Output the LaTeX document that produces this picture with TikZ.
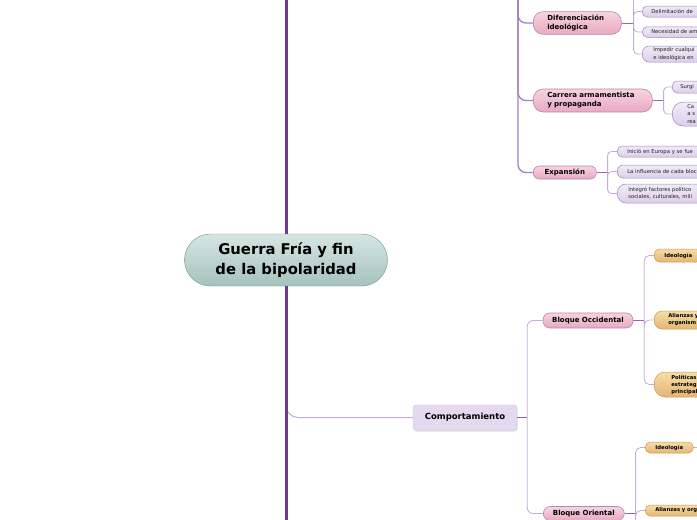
\documentclass[tikz,border=0pt]{standalone}
\usepackage{fontspec}
\setmainfont{DejaVu Sans}
\usetikzlibrary{shadows}
\definecolor{spineclr}{HTML}{6E3A98}
\definecolor{hubclr}{HTML}{A57FC6}
\definecolor{twigclr}{HTML}{C6AADB}
\definecolor{stemclr}{HTML}{9266B6}
\definecolor{roottop}{HTML}{D6E6E2}
\definecolor{rootbot}{HTML}{A6C2BD}
\definecolor{rootline}{HTML}{6F958E}
\definecolor{pinktop}{HTML}{F7D3DF}
\definecolor{pinkbot}{HTML}{E9A9C1}
\definecolor{pinkline}{HTML}{B487B6}
\definecolor{leaftop}{HTML}{F1EAF6}
\definecolor{leafbot}{HTML}{DCCFEA}
\definecolor{leafline}{HTML}{9F88BF}
\definecolor{oratop}{HTML}{F7DDA9}
\definecolor{orabot}{HTML}{E2B670}
\definecolor{oraline}{HTML}{C39A57}
\definecolor{compfill}{HTML}{E4D9EE}
\definecolor{compline}{HTML}{D5C7E4}

\tikzset{
  root/.style={draw=rootline, top color=roottop, bottom color=rootbot, rounded corners=26,
    minimum width=203, minimum height=52, align=center, font=\fontsize{14.8}{19.5}\selectfont\bfseries},
  topic/.style={draw=compline, fill=compfill, rounded corners=3, minimum width=104, minimum height=25,
    font=\fontsize{8.5}{10}\selectfont\bfseries,
    drop shadow={opacity=0.25, shadow xshift=0.6pt, shadow yshift=-1.6pt}},
  mid/.style={draw=pinkline, top color=pinktop, bottom color=pinkbot, line width=0.6pt,
    font=\fontsize{7}{9}\selectfont\bfseries},
  leaf/.style={draw=leafline, top color=leaftop, bottom color=leafbot, line width=0.5pt, anchor=west,
    font=\fontsize{5.3}{7.2}\selectfont, text=black!88, align=left, text width=80, inner ysep=1.5},
  tip/.style={draw=oraline, top color=oratop, bottom color=orabot, line width=0.5pt, anchor=west,
    font=\fontsize{5.3}{7}\selectfont\bfseries, inner ysep=1.5},
  spine/.style={draw=spineclr, line width=3},
  hub/.style={draw=hubclr, line width=1.3},
  stem/.style={draw=stemclr, line width=1},
  twig/.style={draw=twigclr, line width=0.8}
}

\begin{document}
\begin{tikzpicture}[x=1pt,y=-1pt]
  \useasboundingbox (0,0) rectangle (697,520);
  \clip (0,0) rectangle (697,520);
  \fill[white] (0,0) rectangle (697,520);

  % upper branches
  \coordinate (hubtop) at (518,-6);
  \node[mid, anchor=west, text width=60, align=left, inner xsep=14, minimum height=22, rounded corners=10] (dif) at (533,23) {Diferenciación\\ideológica};
  \node[mid, anchor=west, text width=91, align=left, inner xsep=14, minimum height=23, rounded corners=10] (car) at (533,100.5) {Carrera armamentista\\y propaganda};
  \node[mid, anchor=west, minimum width=63, minimum height=13, inner ysep=1, rounded corners=6] (exp) at (533,172.5) {Expansión};

  \node[leaf, inner xsep=9, minimum height=11, rounded corners=5] (del) at (642,11.5) {Delimitación de};
  \node[leaf, inner xsep=9, minimum height=10.5, rounded corners=5] (nec) at (642,32) {Necesidad de am};
  \node[leaf, inner xsep=11, minimum height=16, rounded corners=7] (imp) at (642,54) {Impedir cualqui\\e ideológica en};
  \node[leaf, inner xsep=8, minimum height=12, rounded corners=5] (sur) at (672,87) {Surgi};
  \node[leaf, inner xsep=15, minimum height=24, rounded corners=11] (cam) at (672,114) {Ca\\a s\\rea};
  \node[leaf, inner xsep=10, minimum height=11, rounded corners=5] (ini) at (617,151.5) {Inició en Europa y se fue};
  \node[leaf, inner xsep=10, minimum height=13, rounded corners=6] (inf) at (617,171.5) {La influencia de cada bloc};
  \node[leaf, inner xsep=11, minimum height=19, rounded corners=9] (itg) at (617,193.5) {Integró factores político\\sociales, culturales, mili};

  \draw[hub, rounded corners=8] (hubtop) |- (dif.west);
  \draw[hub, rounded corners=8] (hubtop) |- (car.west);
  \draw[hub, rounded corners=8] (hubtop) |- (exp.west);

  \draw[stem] (dif.east) -- ++(12,0) coordinate (difj);
  \coordinate (difup) at ([xshift=12]dif.east |- 0,-6);
  \draw[twig] (difj) -- (difup);
  \foreach \n in {del,nec,imp} \draw[twig, rounded corners=4] (difj) |- (\n.west);

  \draw[stem] (car.east) -- ++(11,0) coordinate (carj);
  \foreach \n in {sur,cam} \draw[twig, rounded corners=4] (carj) |- (\n.west);

  \draw[stem] (exp.east) -- ++(11,0) coordinate (expj);
  \foreach \n in {ini,inf,itg} \draw[twig, rounded corners=4] (expj) |- (\n.west);

  % root and main spine
  \node[root] (root) at (286,260) {Guerra Fría y fin\\de la bipolaridad};
  \node[topic] (comp) at (465,417.5) {Comportamiento};
  \draw[twig, line width=1, rounded corners=12] (root.south) |- (comp.west);
  \draw[spine] (root.north |- 0,-6) -- (root.north);
  \draw[spine] (root.south) -- (root.south |- 0,526);

  % lower branches
  \node[mid, minimum width=90, minimum height=15, inner ysep=1, rounded corners=7] (boc) at (588,320.5) {Bloque Occidental};
  \node[mid, anchor=west, minimum width=81, minimum height=14, inner ysep=1, rounded corners=7] (bor) at (543,513.5) {Bloque Oriental};

  \node[tip, minimum width=48, minimum height=13, rounded corners=6] (ideo) at (654,255.5) {Ideología};
  \node[tip, align=left, text width=60, inner xsep=14, minimum height=18, rounded corners=8] (ali) at (654,320) {Alianzas y\\organism};
  \node[tip, align=left, text width=60, inner xsep=17, minimum height=25, rounded corners=11] (pol) at (654,384.5) {Políticas\\estrateg\\principal};
  \node[tip, minimum width=48, minimum height=11, rounded corners=5] (ideob) at (645,447.5) {Ideología};
  \node[tip, align=left, text width=60, inner xsep=10, minimum height=11, rounded corners=5] (alib) at (645,510.5) {Alianzas y org};

  \draw[stem] (comp.east) -- ++(10,0) coordinate (compj);
  \foreach \n in {boc,bor} \draw[twig, rounded corners=6] (compj) |- (\n.west);

  \draw[stem] (boc.east) -- ++(11,0) coordinate (bocj);
  \foreach \n in {ideo,ali,pol} \draw[twig, rounded corners=5] (bocj) |- (\n.west);

  \draw[stem] (bor.east) -- ++(11,0) coordinate (borj);
  \coordinate (bordown) at ([xshift=11]bor.east |- 0,526);
  \draw[twig] (borj) -- (bordown);
  \foreach \n in {ideob,alib} \draw[twig, rounded corners=5] (borj) |- (\n.west);
  \coordinate (ideobout) at ([xshift=10]ideob.east);
  \draw[twig] (ideob.east) -- (ideobout);
\end{tikzpicture}
\end{document}
